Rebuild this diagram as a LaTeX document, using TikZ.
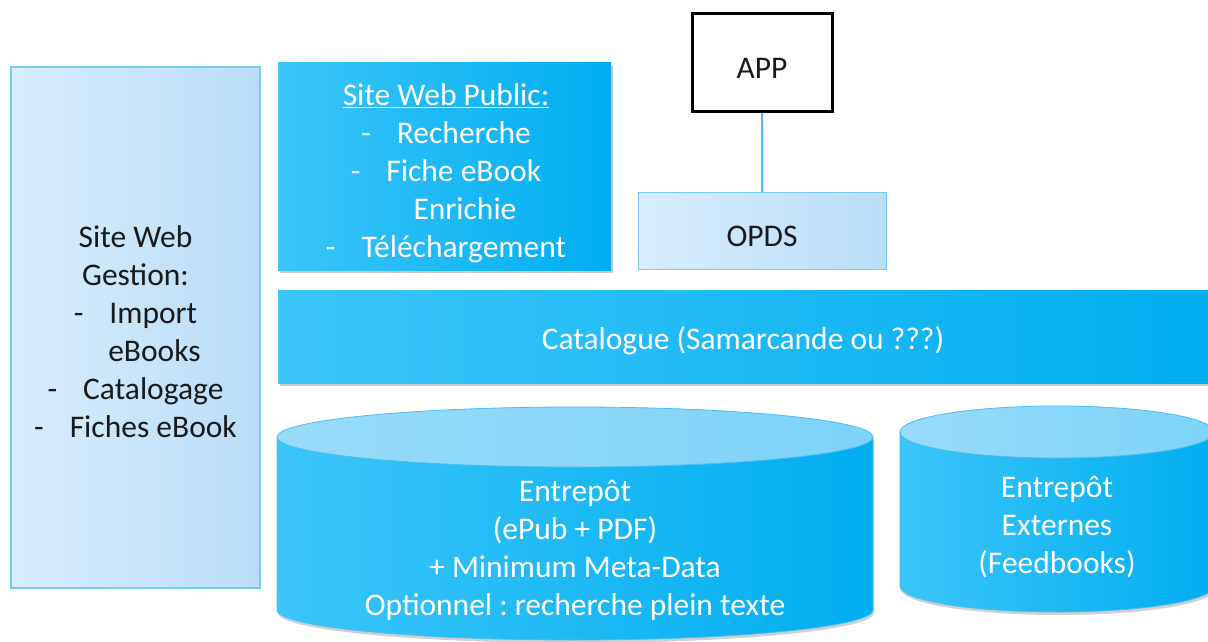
\documentclass[tikz,border=0pt]{standalone}
\usepackage{fontspec}
\setmainfont{Carlito}
\frenchspacing
\usetikzlibrary{shadows}
\definecolor{lightA}{HTML}{D8EDFC}
\definecolor{lightB}{HTML}{BADDF8}
\definecolor{lightBorder}{HTML}{72CCF4}
\definecolor{blueA}{HTML}{3CC5F9}
\definecolor{blueB}{HTML}{00C2F8}
\definecolor{blueC}{HTML}{00AEF0}
\definecolor{topA}{HTML}{98DBF9}
\definecolor{topB}{HTML}{7CD3F9}
\definecolor{edgeBlue}{HTML}{4DBDF1}
\definecolor{txt}{HTML}{1A1A1A}
\begin{document}
\begin{tikzpicture}[x=1pt,y=-1pt,
  every node/.style={font=\fontsize{31.5}{38}\selectfont, align=center, inner sep=0pt, text=txt},
  lightbox/.style={draw=lightBorder, line width=1.3pt, left color=lightA, right color=lightB},
  bluebox/.style={left color=blueA, middle color=blueB, right color=blueC,
    drop shadow={shadow xshift=2pt, shadow yshift=-3pt, opacity=0.35, fill=black!60}},
  whitetext/.style={text=white},
  appbox/.style={draw=black, line width=3pt, fill=white},
  linkline/.style={draw=edgeBlue, line width=2.8pt},
  cylside/.style={left color=blueA, middle color=blueB, right color=blueC, draw=edgeBlue, line width=0.8pt,
    drop shadow={shadow xshift=1pt, shadow yshift=-3pt, opacity=0.3, fill=black!60}},
  cyltop/.style={left color=topA, right color=topB, draw=edgeBlue, line width=0.8pt}
]
\useasboundingbox (0,0) rectangle (1208,642);
\fill[white] (0,0) rectangle (1208,642);

% left management box
\node[lightbox, minimum width=249pt, minimum height=521pt] (gestion) at (135.5,327.5) {};
\node (gestiontxt) at (135.5,332) {Site Web\\Gestion:\\-\hspace{26pt}Import\\\hspace*{38pt}eBooks\\-\hspace{26pt}Catalogage\\-\hspace{26pt}Fiches eBook};

% public site
\node[bluebox, minimum width=333pt, minimum height=207pt] (public) at (444.5,166.5) {};
\node[whitetext] (publictxt) at (446,173) {\underline{Site Web Public:}\\-\hspace{26pt}Recherche\\-\hspace{26pt}Fiche eBook\\\hspace*{38pt}Enrichie\\-\hspace{26pt}Téléchargement};

% APP and OPDS
\node[appbox, minimum width=140pt, minimum height=97pt] (app) at (762,62.5) {\raisebox{-6pt}[20pt][0pt]{APP}};
\node[lightbox, line width=1pt, minimum width=248pt, minimum height=77pt] (opds) at (762,230.5) {\raisebox{-6pt}[20pt][0pt]{OPDS}};
\draw[linkline] (app.south) -- (opds.north);

% catalogue
\node[bluebox, minimum width=934pt, minimum height=93pt] (catalogue) at (745,336.5) {};
\node[whitetext] (catalogtxt) at (743,341) {Catalogue (Samarcande ou ???)};

% cylinder 1
\path[cylside] (277,437) -- (277,610) arc[start angle=180, end angle=0, x radius=298, y radius=30] -- (873,437) -- cycle;
\path[cyltop] (575,437) ellipse[x radius=298, y radius=30];
\node[whitetext] (entrepot) at (575,550) {Entrepôt\\(ePub + PDF)\\+ Minimum Meta-Data\\Optionnel : recherche plein texte};

% cylinder 2
\path[cylside] (900,432) -- (900,586) arc[start angle=180, end angle=0, x radius=157, y radius=26] -- (1214,432) -- cycle;
\path[cyltop] (1057,432) ellipse[x radius=157, y radius=26];
\node[whitetext] (externes) at (1057,527) {Entrepôt\\Externes\\(Feedbooks)};
\end{tikzpicture}
\end{document}
